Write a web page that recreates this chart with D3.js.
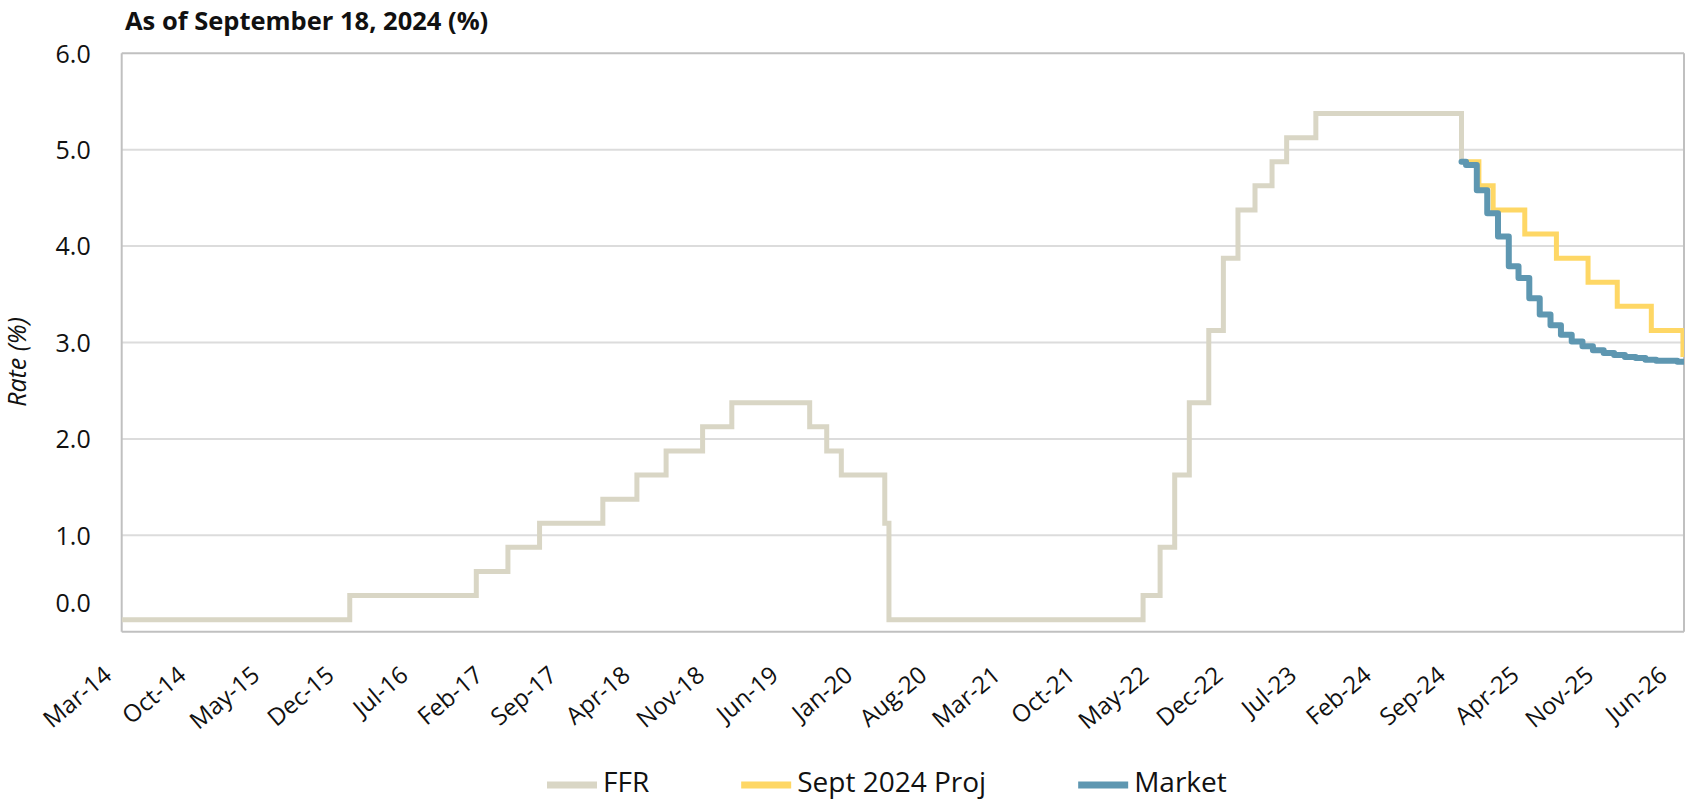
<!DOCTYPE html>
<html>
<head>
<meta charset="utf-8">
<script src="https://cdn.jsdelivr.net/npm/d3@7/dist/d3.min.js"></script>
<style>
  html, body { margin: 0; padding: 0; background: #ffffff; }
  svg { display: block; font-family: "Open Sans", "Noto Sans", sans-serif; }
</style>
</head>
<body>
<svg id="chart" width="1686" height="800"></svg>
<script>
// Federal funds rate (midpoint of target range), dated by change
const ffrDates = ["2014-03-01","2015-12-17","2016-12-15","2017-03-16","2017-06-15","2017-12-14",
  "2018-03-22","2018-06-14","2018-09-27","2018-12-20","2019-08-01","2019-09-19","2019-10-31",
  "2020-03-04","2020-03-16","2022-03-17","2022-05-05","2022-06-16","2022-07-28","2022-09-22",
  "2022-11-03","2022-12-15","2023-02-02","2023-03-23","2023-05-04","2023-07-27","2024-09-18"];
const ffrValues = [0.125,0.375,0.625,0.875,1.125,1.375,1.625,1.875,2.125,2.375,2.125,1.875,1.625,
  1.125,0.125,0.375,0.875,1.625,2.375,3.125,3.875,4.375,4.625,4.875,5.125,5.375,4.875];

// September 2024 SEP median path, stepped at FOMC meetings
const projDates = ["2024-09-18","2024-11-07","2024-12-18","2025-03-19","2025-06-18","2025-09-17",
  "2025-12-10","2026-03-18","2026-06-17"];
const projValues = [4.875,4.625,4.375,4.125,3.875,3.625,3.375,3.125,2.875];

// Market-implied path, monthly
const mktDates = ["2024-09-18","2024-10-01","2024-11-01","2024-12-01","2025-01-01","2025-02-01",
  "2025-03-01","2025-04-01","2025-05-01","2025-06-01","2025-07-01","2025-08-01","2025-09-01",
  "2025-10-01","2025-11-01","2025-12-01","2026-01-01","2026-02-01","2026-03-01","2026-04-01",
  "2026-05-01","2026-06-01"];
const mktValues = [4.875,4.84,4.58,4.34,4.10,3.79,3.67,3.46,3.29,3.18,3.08,3.01,2.96,2.92,2.89,
  2.87,2.85,2.84,2.82,2.81,2.81,2.80];

// Axis labels
const xTickDates = ["2014-03-01","2014-10-01","2015-05-01","2015-12-01","2016-07-01","2017-02-01",
  "2017-09-01","2018-04-01","2018-11-01","2019-06-01","2020-01-01","2020-08-01","2021-03-01",
  "2021-10-01","2022-05-01","2022-12-01","2023-07-01","2024-02-01","2024-09-01","2025-04-01",
  "2025-11-01","2026-06-01"];
const yTicks = [0, 1, 2, 3, 4, 5, 6];

const seriesNames = ["FFR", "Sept 2024 Proj", "Market"];
const seriesColors = ["#d9d6c5", "#fed765", "#5e97b1"];

const parse = d3.utcParse("%Y-%m-%d");
const svg = d3.select("#chart");

const plot = { left: 121.7, right: 1684, top: 53.3, bottom: 631.7 };

const x = d3.scaleUtc()
  .domain([parse("2014-03-01"), parse("2026-06-20")])
  .range([plot.left, plot.right]);
const y = d3.scaleLinear().domain([0, 6]).range([plot.bottom, plot.top]);

// Title
svg.append("text")
  .attr("x", 125).attr("y", 30)
  .attr("font-size", 25.5).attr("font-weight", 700).attr("fill", "#111")
  .text("As of September 18, 2024 (%)");

// Gridlines
svg.append("g").selectAll("line")
  .data(yTicks.filter(v => v > 0 && v < 6))
  .join("line")
  .attr("x1", plot.left).attr("x2", plot.right)
  .attr("y1", d => y(d)).attr("y2", d => y(d))
  .attr("stroke", "#dcdcdc").attr("stroke-width", 2);

// Plot frame
const frame = svg.append("g").attr("fill", "none").attr("stroke", "#c0c0c0").attr("stroke-width", 2);
frame.append("line").attr("x1", plot.left).attr("x2", plot.right).attr("y1", y(6)).attr("y2", y(6));
frame.append("line").attr("x1", plot.left).attr("x2", plot.right).attr("y1", y(0)).attr("y2", y(0));
frame.append("line").attr("x1", plot.left).attr("x2", plot.left).attr("y1", y(6)).attr("y2", y(0));
frame.append("line").attr("x1", plot.right).attr("x2", plot.right).attr("y1", y(6)).attr("y2", y(0));

// Y axis labels
const yAxis = svg.append("g")
  .attr("transform", `translate(${plot.left - 31},0)`)
  .call(d3.axisLeft(y).tickValues(yTicks).tickFormat(d3.format(".1f")).tickSize(0).tickPadding(0));
yAxis.select(".domain").remove();
yAxis.selectAll("text")
  .attr("font-family", "'Open Sans', sans-serif").attr("font-size", 25).attr("fill", "#111")
  .attr("dy", d => d === 0 ? "-0.8em" : "0.35em");

// Y axis title
svg.append("text")
  .attr("transform", `translate(26,362) rotate(-90)`)
  .attr("text-anchor", "middle")
  .attr("font-size", 25).attr("font-style", "italic").attr("fill", "#111")
  .text("Rate (%)");

// X axis labels
const xAxis = svg.append("g")
  .attr("transform", `translate(0,${plot.bottom})`)
  .call(d3.axisBottom(x).tickValues(xTickDates.map(parse)).tickFormat(d3.utcFormat("%b-%y")).tickSize(0));
xAxis.select(".domain").remove();
xAxis.selectAll("text")
  .attr("font-family", "'Open Sans', sans-serif").attr("font-size", 24).attr("fill", "#111")
  .attr("text-anchor", "end")
  .attr("dy", 0)
  .attr("transform", "translate(-9,46) rotate(-40)")
  .attr("y", 0).attr("x", 0);

// Lines
const xEnd = x.domain()[1];
function toPoints(dates, values, extend) {
  const pts = dates.map((d, i) => [parse(d), values[i]]);
  if (extend) pts.push([xEnd, values[values.length - 1]]);
  return pts;
}
const line = d3.line().x(d => x(d[0])).y(d => y(d[1])).curve(d3.curveStepAfter);

const series = [
  { pts: toPoints(ffrDates, ffrValues, false), color: seriesColors[0], width: 5, join: "miter" },
  { pts: toPoints(projDates, projValues, true), color: seriesColors[1], width: 5, join: "miter" },
  { pts: toPoints(mktDates, mktValues, true), color: seriesColors[2], width: 6, join: "round" }
];

svg.append("clipPath").attr("id", "plotclip")
  .append("rect").attr("x", plot.left).attr("y", plot.top - 5)
  .attr("width", plot.right - plot.left).attr("height", plot.bottom - plot.top + 5);

svg.append("g").attr("clip-path", "url(#plotclip)")
  .selectAll("path").data(series).join("path")
  .attr("d", d => line(d.pts))
  .attr("fill", "none")
  .attr("stroke", d => d.color)
  .attr("stroke-width", d => d.width)
  .attr("stroke-linejoin", d => d.join)
  .attr("stroke-linecap", d => d.join === "round" ? "round" : "butt");

// Legend
const legend = svg.append("g");
let lx = 547;
seriesNames.forEach((name, i) => {
  const g = legend.append("g");
  g.append("rect").attr("x", lx).attr("y", 781.5).attr("width", 50).attr("height", 7)
    .attr("fill", seriesColors[i]);
  const t = g.append("text").attr("x", lx + 56).attr("y", 792)
    .attr("font-size", 28).attr("fill", "#111").text(name);
  lx += 56 + t.node().getComputedTextLength() + 92;
});
</script>
</body>
</html>
